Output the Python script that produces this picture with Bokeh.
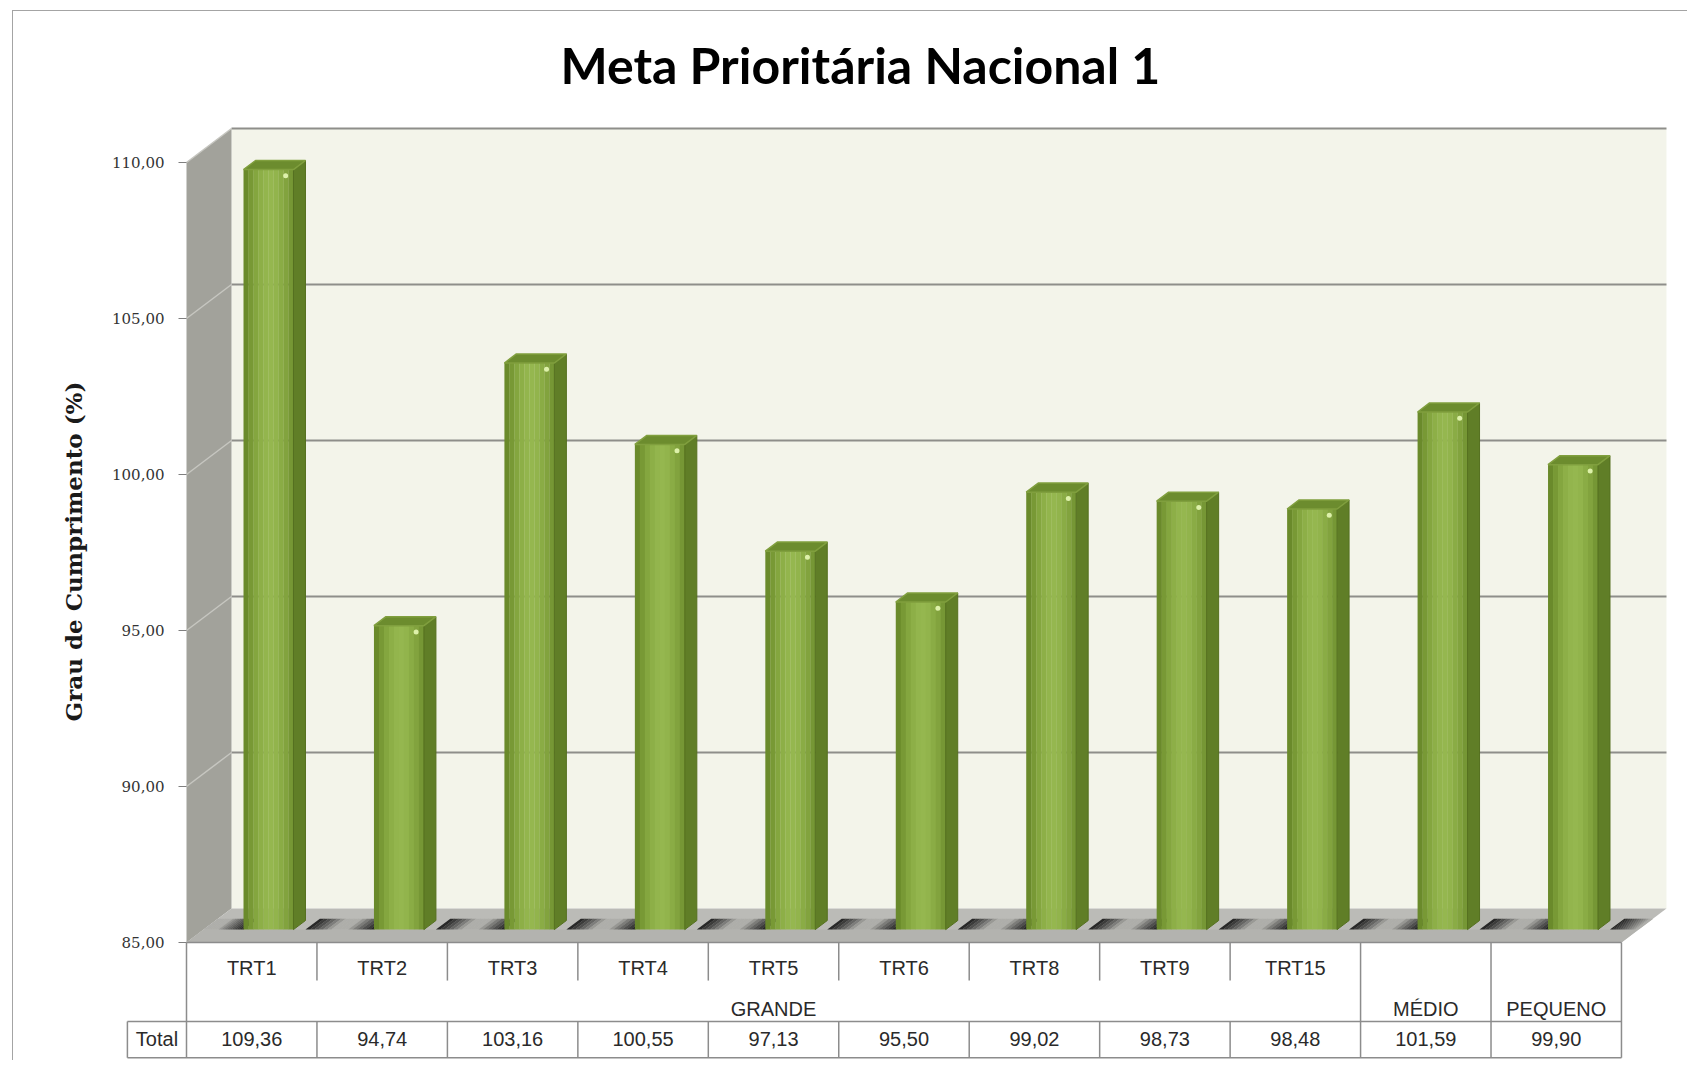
import numpy as np
from bokeh.plotting import figure
from bokeh.models import ColumnDataSource, Range1d, LinearAxis, FixedTicker
from bokeh.core.properties import value
from bokeh.embed import file_html
from bokeh.resources import INLINE

# ---------------- data ----------------
title_text = "Meta Prioritária Nacional 1"
y_label = "Grau de Cumprimento (%)"
tribunais = ["TRT1", "TRT2", "TRT3", "TRT4", "TRT5", "TRT6", "TRT8", "TRT9", "TRT15", "", ""]
portes = ["GRANDE"] * 9 + ["MÉDIO", "PEQUENO"]
valores = [109.36, 94.74, 103.16, 100.55, 97.13, 95.50, 99.02, 98.73, 98.48, 101.59, 99.90]
row_label = "Total"
y_ticks = [85, 90, 95, 100, 105, 110]
y_tick_labels = ["85,00", "90,00", "95,00", "100,00", "105,00", "110,00"]

# ---------------- geometry / style constants ----------------
N = len(valores)
Y0, Y1 = y_ticks[0], y_ticks[-1]
DX, DY = 0.345, 1.09          # depth of the 3D box (x units, y units)
BAR_L, BAR_R = 0.437, 0.82    # bar front face inside its column
BAR_SX, BAR_SY = 0.092, 0.29  # bar side depth
BAR_D = 0.38                  # depth fraction of bar front plane
BAR_SHIFT = BAR_D * DY
CAT_Y, DIV_Y, GRP_Y = 84.17, 83.78, 82.88
ROW_TOP, VAL_Y, ROW_BOT = 82.47, 81.92, 81.31
HEAD_L = -0.453
YLAB_X, YLAB_Y = -0.866, 97.53


def lerp_hex(c1, c2, t):
    a = np.array([int(c1[i:i + 2], 16) for i in (1, 3, 5)], float)
    b = np.array([int(c2[i:i + 2], 16) for i in (1, 3, 5)], float)
    c = np.round(a + (b - a) * t).astype(int)
    return "#%02x%02x%02x" % tuple(c)


p = figure(width=1675, height=1050, output_backend="svg", toolbar_location=None,
           x_axis_location=None, y_axis_location=None,
           x_range=Range1d(-1.1192, 11.4525), y_range=Range1d(81.218, 111.667),
           min_border_left=27, min_border_right=8, min_border_top=99, min_border_bottom=1,
           background_fill_color="white", border_fill_color="white", outline_line_color=None,
           styles={"margin-left": "12px", "margin-top": "10px",
                   "border-left": "1px solid #a4a4a4", "border-top": "1px solid #a4a4a4"})
p.xgrid.visible = False
p.ygrid.visible = False

p.title.text = title_text
p.title.text_font = "Lato"
p.title.text_font_style = "bold"
p.title.text_font_size = "50px"
p.title.text_color = "#000000"
p.title.align = "left"
p.title.offset = 520
p.title.standoff = 32

# ---------------- walls ----------------
p.quad(left=DX, right=N + DX, bottom=Y0 + DY, top=Y1 + DY, fill_color="#F3F4EA", line_color=None)
gl = y_ticks[1:]
p.segment(x0=[DX] * len(gl), y0=[t + DY for t in gl], x1=[N + DX] * len(gl), y1=[t + DY for t in gl],
          line_color="#8E8E8A", line_width=2)
p.patch([0, DX, DX, 0], [Y0, Y0 + DY, Y1 + DY, Y1], fill_color="#A2A29B", line_color=None)
p.segment(x0=[0] * len(gl), y0=gl, x1=[DX] * len(gl), y1=[t + DY for t in gl],
          line_color="#C6C6C0", line_width=1.5)

# floor: back band, front band, shadow band
p.patch([0, N, N + DX, DX], [Y0, Y0, Y0 + DY, Y0 + DY], fill_color="#BBBBB7", line_color=None)
d0, d1 = BAR_D, 0.70
p.patch([0, N, N + d0 * DX, d0 * DX], [Y0, Y0, Y0 + d0 * DY, Y0 + d0 * DY],
        fill_color="#B3B3AF", line_color=None)

bar_base_l = [i + BAR_L - BAR_D * DX for i in range(N)]
bar_base_r = [i + BAR_R - BAR_D * DX + BAR_SX for i in range(N)]
gaps = [(0.0, bar_base_l[0], False, True)]
for i in range(N - 1):
    gaps.append((bar_base_r[i], bar_base_l[i + 1], True, True))
gaps.append((bar_base_r[-1], float(N), True, False))
sx, sy, sc = [], [], []
M = 16
for a, b, dark_l, dark_r in gaps:
    w = (b - a) / M
    for k in range(M):
        xa, xb = a + k * w, a + (k + 1) * w + 0.002
        xm = (xa + xb) / 2
        dk = 0.0
        if dark_l:
            dk = max(dk, 1 - (xm - a) / 0.2)
        if dark_r:
            dk = max(dk, 1 - (b - xm) / 0.2)
        dk = min(max(dk, 0.0), 1.0) ** 0.8
        sx.append([xa + d0 * DX, xb + d0 * DX, xb + d1 * DX, xa + d1 * DX])
        sy.append([Y0 + d0 * DY, Y0 + d0 * DY, Y0 + d1 * DY, Y0 + d1 * DY])
        sc.append(lerp_hex("#AEAEAA", "#1E1E1E", dk))
p.patches(xs="xs", ys="ys", fill_color="c", line_color=None,
          source=ColumnDataSource(dict(xs=sx, ys=sy, c=sc)))

# ---------------- bars ----------------
front_cols = ["#6A8A2B", "#789935", "#84A63F", "#8DAF47", "#93B54D",
              "#95B74F", "#92B44C", "#8AAC45", "#82A33E", "#769735"]
fl, fr, fb, ft, fc = [], [], [], [], []
side_x, side_y, top_x, top_y = [], [], [], []
hx, hy = [], []
for i, v in enumerate(valores):
    l, r = i + BAR_L, i + BAR_R
    b, t = Y0 + BAR_SHIFT, v + BAR_SHIFT
    w = (r - l) / len(front_cols)
    for k, c in enumerate(front_cols):
        fl.append(l + k * w); fr.append(l + (k + 1) * w + 0.002)
        fb.append(b); ft.append(t); fc.append(c)
    side_x.append([r, r + BAR_SX, r + BAR_SX, r])
    side_y.append([b, b + BAR_SY, t + BAR_SY, t])
    top_x.append([l, r, r + BAR_SX, l + BAR_SX])
    top_y.append([t, t, t + BAR_SY, t + BAR_SY])
    hx.append(r - 0.06); hy.append(t - 0.2)

p.quad(left="l", right="r", bottom="b", top="t", fill_color="c", line_color=None,
       source=ColumnDataSource(dict(l=fl, r=fr, b=fb, t=ft, c=fc)))
p.patches(xs=side_x, ys=side_y, fill_color="#607E27", line_color="#55701F", line_width=1)
p.patches(xs=top_x, ys=top_y, fill_color="#6C8C2E", line_color="#809F3E", line_width=1.5)
p.scatter(x=hx, y=hy, size=5, fill_color="#DDF1AA", line_color=None)

# ---------------- y axis ----------------
yaxis = LinearAxis(fixed_location=0, ticker=FixedTicker(ticks=y_ticks),
                   major_label_overrides={t: s for t, s in zip(y_ticks, y_tick_labels)},
                   bounds=(Y0, Y1), axis_line_color=None,
                   major_tick_out=8, major_tick_in=0, major_tick_line_color="#7F7F7F",
                   minor_tick_line_color=None,
                   major_label_text_font="DejaVu Serif", major_label_text_font_size="15px",
                   major_label_text_color="#333333", major_label_standoff=14)
p.add_layout(yaxis, "left")

# y-axis title (rotated), placed like the original (above the frame centre)
p.text(x=[YLAB_X], y=[YLAB_Y], text=[y_label], angle=np.pi / 2,
       text_font=value("DejaVu Serif"), text_font_style="bold", text_font_size="23px",
       text_align="center", text_baseline="middle", text_color="#1a1a1a")

# ---------------- data table ----------------
line_c = "#8C8C8C"
hx0, hy0, hx1, hy1 = [0, HEAD_L, HEAD_L], [Y0, ROW_TOP, ROW_BOT], [N, N, N], [Y0, ROW_TOP, ROW_BOT]
vx0, vy0, vx1, vy1 = [HEAD_L], [ROW_TOP], [HEAD_L], [ROW_BOT]
for j in range(N + 1):
    full = j == 0 or j == N or portes[j - 1] != portes[j]
    if full:
        vx0.append(j); vy0.append(Y0); vx1.append(j); vy1.append(ROW_BOT)
    else:
        vx0 += [j, j]; vy0 += [Y0, ROW_TOP]; vx1 += [j, j]; vy1 += [DIV_Y, ROW_BOT]
p.segment(x0=hx0 + vx0, y0=hy0 + vy0, x1=hx1 + vx1, y1=hy1 + vy1, line_color=line_c, line_width=1.5)

txt_font = value("Liberation Sans")
cat_x = [i + 0.5 for i, s in enumerate(tribunais) if s]
cat_t = [s for s in tribunais if s]
p.text(x=cat_x, y=[CAT_Y] * len(cat_x), text=cat_t, text_font=txt_font, text_font_size="20px",
       text_align="center", text_baseline="middle", text_color="#2a2a2a")

grp_names, grp_x = [], []
start = 0
for j in range(1, N + 1):
    if j == N or portes[j] != portes[start]:
        grp_names.append(portes[start]); grp_x.append((start + j) / 2)
        start = j
p.text(x=grp_x, y=[GRP_Y] * len(grp_x), text=grp_names, text_font=txt_font, text_font_size="20px",
       text_align="center", text_baseline="middle", text_color="#2a2a2a")

val_t = [f"{v:.2f}".replace(".", ",") for v in valores]
p.text(x=[i + 0.5 for i in range(N)], y=[VAL_Y] * N, text=val_t, text_font=txt_font,
       text_font_size="20px", text_align="center", text_baseline="middle", text_color="#2a2a2a")
p.text(x=[HEAD_L / 2], y=[VAL_Y], text=[row_label], text_font=txt_font, text_font_size="20px",
       text_align="center", text_baseline="middle", text_color="#2a2a2a")

open("out.html", "w").write(file_html(p, INLINE))
